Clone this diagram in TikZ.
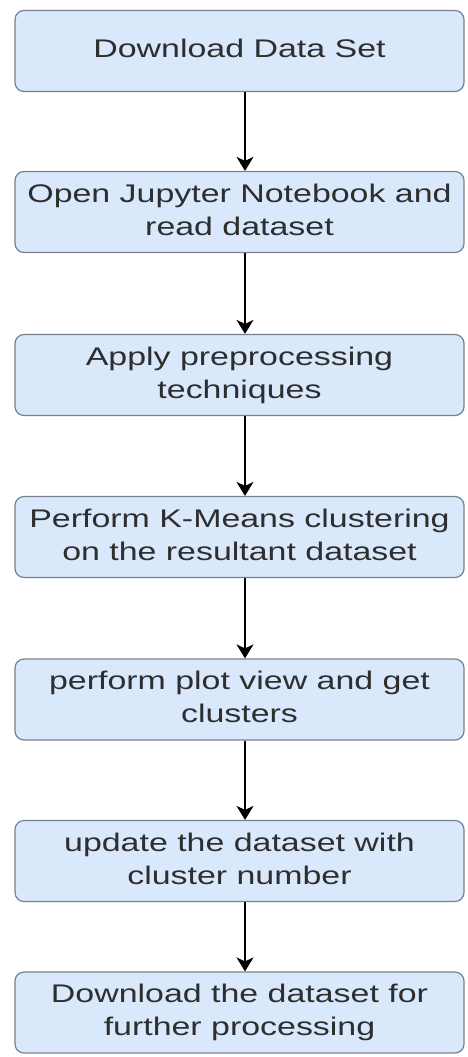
\documentclass[tikz,border=0pt]{standalone}
\usepackage{fontspec}
\setmainfont{Liberation Sans}
\usetikzlibrary{arrows.meta}
\definecolor{boxfill}{HTML}{DAE8FC}
\definecolor{boxline}{HTML}{76828F}
\definecolor{txt}{HTML}{2E2E2E}
\newcommand{\boxtxt}[1]{\scalebox{1.33}[1]{\begin{tabular}{@{}c@{}}#1\end{tabular}}}
\begin{document}
\begin{tikzpicture}[x=1pt,y=-1pt,
  stepbox/.style={draw=boxline, line width=1.2pt, fill=boxfill, rounded corners=9pt,
    minimum width=449pt, minimum height=81pt, inner sep=0pt, text=txt,
    font=\fontsize{25.5}{33}\selectfont, align=center},
  flow/.style={-{Stealth[length=14pt,width=17pt,inset=4pt]}, line width=1.5pt, black}]
\useasboundingbox (0,0) rectangle (468,1057);
\fill[white] (0,0) rectangle (468,1057);
\node[stepbox] (s1) at (239.5,51) {\boxtxt{Download Data Set}};
\node[stepbox] (s2) at (239.5,212) {\boxtxt{Open Jupyter Notebook and\\read dataset}};
\node[stepbox] (s3) at (239.5,375) {\boxtxt{Apply preprocessing\\techniques}};
\node[stepbox] (s4) at (239.5,537) {\boxtxt{Perform K-Means clustering\\on the resultant dataset}};
\node[stepbox] (s5) at (239.5,699.5) {\boxtxt{perform plot view and get\\clusters}};
\node[stepbox] (s6) at (239.5,861) {\boxtxt{update the dataset with\\cluster number}};
\node[stepbox] (s7) at (239.5,1012.5) {\boxtxt{Download the dataset for\\further processing}};
\foreach \a/\b in {s1/s2,s2/s3,s3/s4,s4/s5,s5/s6,s6/s7}
  \draw[flow] ([xshift=5.5pt]\a.south) -- ([xshift=5.5pt]\b.north);
\end{tikzpicture}
\end{document}
